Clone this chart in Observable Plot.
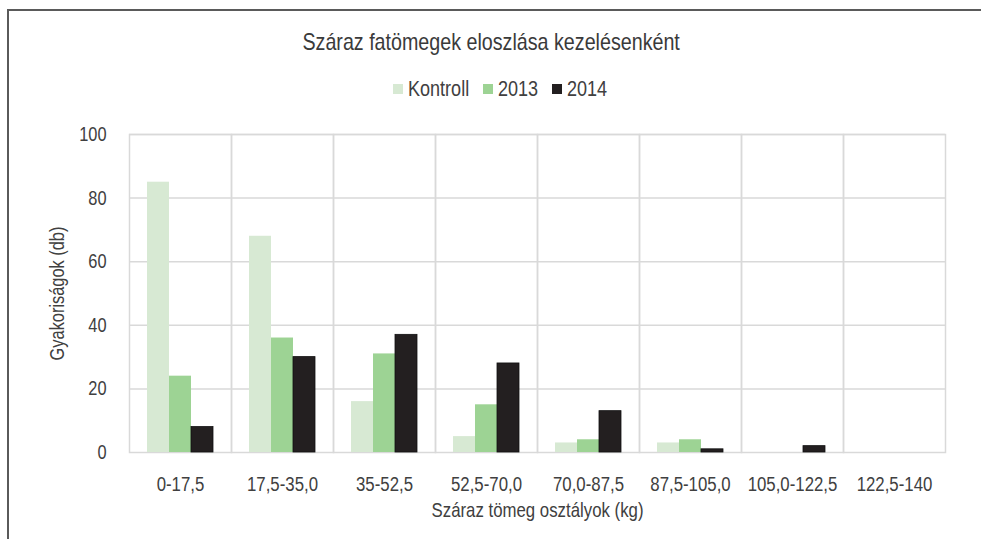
<!DOCTYPE html>
<html><head><meta charset="utf-8">
<script src="https://cdn.jsdelivr.net/npm/d3@7"></script>
<script src="https://cdn.jsdelivr.net/npm/@observablehq/plot@0.6"></script>
<style>
body{margin:0;background:#fff;}
#wrap{position:relative;width:981px;height:539px;overflow:hidden;font-family:"Liberation Sans",Arial,sans-serif;color:#404040;}
#frame{position:absolute;left:7px;top:9px;width:1000px;height:600px;border-top:2px solid #5a5a5a;border-left:2px solid #5a5a5a;}
#title{position:absolute;top:28px;left:0;width:982px;text-align:center;font-size:24px;color:#3a3a3a;}
#title span{display:inline-block;transform:scaleX(0.82);transform-origin:center;}
#legend{position:absolute;top:76px;left:0;width:1000px;display:flex;justify-content:center;align-items:center;font-size:22px;}
#legend .item{display:flex;align-items:center;margin:0 7px;}
#legend .sw{display:inline-block;width:10px;height:10px;margin-right:5px;}
#legend .tx{display:inline-block;transform:scaleX(0.82);transform-origin:left center;}
#chart{position:absolute;left:0;top:0;}
</style></head>
<body>
<div id="wrap">
  <div id="frame"></div>
  <div id="title"><span></span></div>
  <div id="legend"></div>
  <div id="chart"></div>
</div>
<script>
const titleText = "Száraz fatömegek eloszlása kezelésenként";
const xLabel = "Száraz tömeg osztályok (kg)";
const yLabel = "Gyakoriságok (db)";
const classes = ["0-17,5","17,5-35,0","35-52,5","52,5-70,0","70,0-87,5","87,5-105,0","105,0-122,5","122,5-140"];
const series = ["Kontroll","2013","2014"];
const kontroll = [85,68,16,5,3,3,0,0];
const y2013 = [24,36,31,15,4,4,0,0];
const y2014 = [8,30,37,28,13,1,2,0];
const yTicks = [0,20,40,60,80,100];
const colors = ["#d7e9d3","#9dd394","#231f20"];

const NARROW = 0.82;
const seriesValues = [kontroll, y2013, y2014];
const data = classes.flatMap((c,i)=>series.map((s,j)=>({cls:c, series:s, value:seriesValues[j][i]})));

document.querySelector("#title span").textContent = titleText;
const leg = document.getElementById("legend");
series.forEach((s,j)=>{
  const it = document.createElement("span"); it.className="item";
  const sw = document.createElement("span"); sw.className="sw"; sw.style.background=colors[j];
  const tx = document.createElement("span"); tx.className="tx"; tx.textContent = s;
  it.appendChild(sw); it.appendChild(tx);
  leg.appendChild(it);
});
leg.querySelectorAll(".tx").forEach(t=>{ t.style.marginRight = (-(1-NARROW)*t.offsetWidth)+"px"; });

const chart = Plot.plot({
  width:981, height:539,
  marginTop:134, marginBottom:87, marginLeft:126, marginRight:33,
  style:{fontFamily:'"Liberation Sans",Arial,sans-serif', fontSize:"20px", color:"#404040", background:"transparent", overflow:"visible"},
  fx:{domain:classes, padding:0},
  x:{domain:series, paddingInner:0, paddingOuter:0.73, axis:null},
  y:{domain:[0,100]},
  color:{domain:series, range:colors},
  marks:[
    Plot.gridY(yTicks.slice(1), {stroke:"#d9d9d9", strokeOpacity:1, strokeWidth:1.5}),
    Plot.frame({stroke:"#d9d9d9", strokeWidth:1.5}),
    Plot.barY(data,{fx:"cls", x:"series", y:"value", fill:"series", stroke:d=>d.series==="2014"?"#111":"none", strokeWidth:0.8}),
    Plot.axisFx({anchor:"bottom", tickSize:0, tickPadding:24, fontSize:20.5, label:xLabel, labelAnchor:"center", labelOffset:64, labelArrow:"none"}),
    Plot.axisY({anchor:"left", ticks:yTicks, tickSize:0, tickPadding:23, fontSize:20, label:yLabel, labelAnchor:"center", labelOffset:80, labelArrow:"none"})
  ]
});
// condense all SVG text horizontally (narrow typeface look)
d3.select(chart).selectAll("text").each(function(){
  const t = d3.select(this);
  let tr = t.attr("transform");
  if (!tr) {
    const x = +t.attr("x") || 0, y = +t.attr("y") || 0;
    t.attr("x", null).attr("y", null);
    tr = `translate(${x},${y})`;
  }
  t.attr("transform", `${tr} scale(${NARROW},1)`);
});
document.getElementById("chart").appendChild(chart);
</script>
</body></html>
